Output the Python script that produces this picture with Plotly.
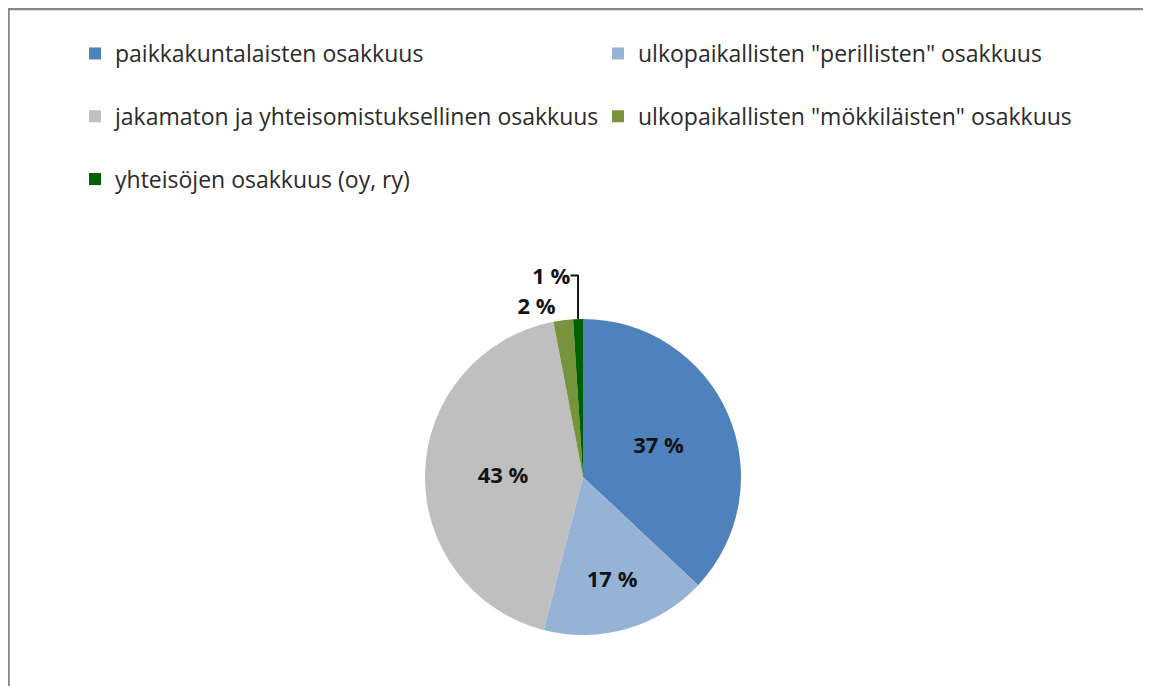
import plotly.graph_objects as go

labels = [
    "paikkakuntalaisten osakkuus",
    'ulkopaikallisten "perillisten" osakkuus',
    "jakamaton ja yhteisomistuksellinen osakkuus",
    'ulkopaikallisten "mökkiläisten" osakkuus',
    "yhteisöjen osakkuus (oy, ry)",
]
values = [37, 17, 43, 2, 1]
colors = ["#4F81BD", "#95B3D7", "#BFBFBF", "#77933C", "#006100"]
text_positions = ["inside", "inside", "inside", "outside", "outside"]

W, H = 1151, 686
FONT = "Open Sans"
# the page is drawn with an 8px body margin; coordinates below are in paper pixels
CX, CY, R = 575, 469, 158

fig = go.Figure(
    go.Pie(
        labels=[l + "<br> " for l in labels],
        values=values,
        sort=False,
        direction="clockwise",
        rotation=0,
        marker=dict(colors=colors, line=dict(width=0)),
        texttemplate="%{value} %",
        textposition=text_positions,
        insidetextorientation="horizontal",
        textfont=dict(family=FONT, size=22, color="#141414", weight="bold"),
        hovertemplate="%{label}: %{value} %<extra></extra>",
        domain=dict(x=[(CX - R) / W, (CX + R) / W], y=[1 - (CY + R) / H, 1 - (CY - R) / H]),
    )
)

fig.update_layout(
    width=W,
    height=H,
    margin=dict(l=0, r=0, t=0, b=0),
    paper_bgcolor="white",
    plot_bgcolor="white",
    font=dict(family=FONT, color="#2b2b2b"),
    legend=dict(
        orientation="h",
        x=67 / W,
        xanchor="left",
        y=1 - 24 / H,
        yanchor="top",
        entrywidth=478,
        valign="top",
        font=dict(family=FONT, size=23, color="#2b2b2b"),
        traceorder="normal",
    ),
    shapes=[
        dict(type="line", xref="paper", yref="paper", x0=0, x1=1, y0=1 - 1 / H, y1=1 - 1 / H,
             line=dict(color="#868686", width=2.5)),
        dict(type="line", xref="paper", yref="paper", x0=0.5 / W, x1=0.5 / W, y0=0, y1=1,
             line=dict(color="#868686", width=2.5)),
    ],
)

fig.write_html("out.html")
